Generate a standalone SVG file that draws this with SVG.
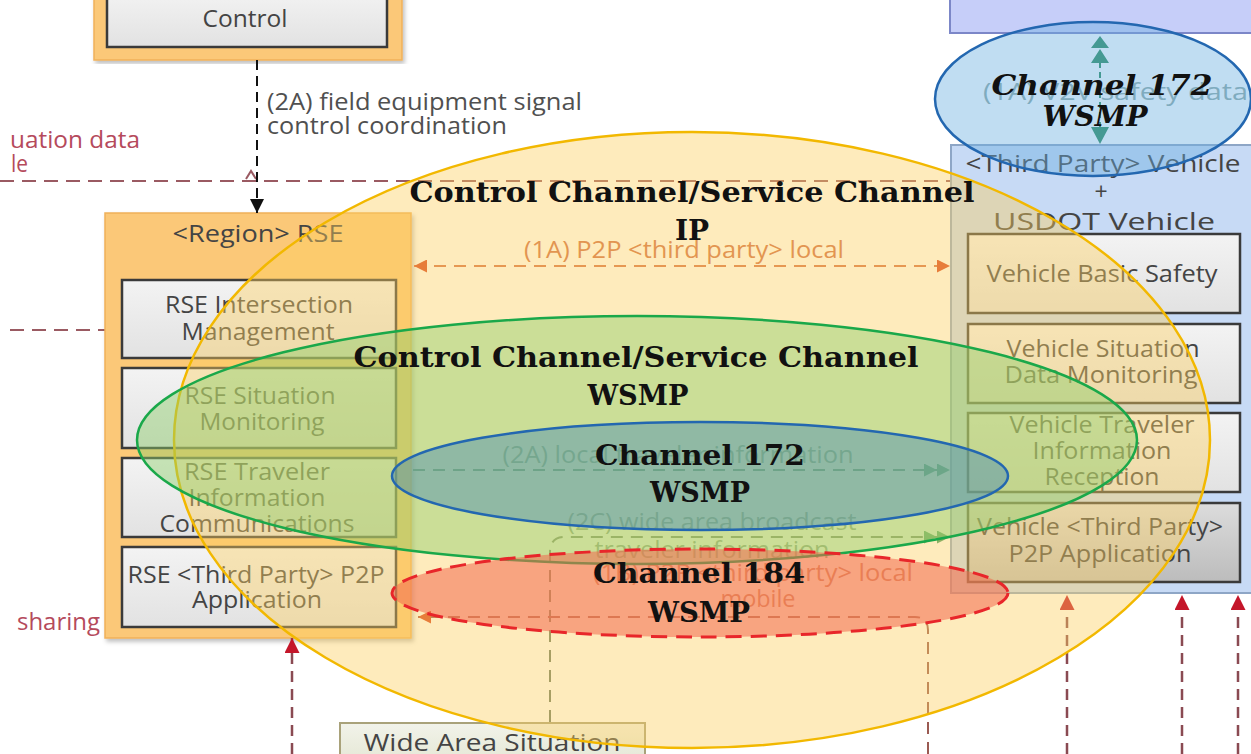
<svg xmlns="http://www.w3.org/2000/svg" width="1251" height="754" viewBox="0 0 1251 754">
<style>
.t{font-family:"Open Sans","Noto Sans",sans-serif;font-size:23px;fill:#444;text-anchor:middle}
.lb{font-family:"Open Sans","Noto Sans",sans-serif;font-size:23px;fill:#505050}
.lr{font-family:"Open Sans","Noto Sans",sans-serif;font-size:23px;fill:#b54a5c}
.big{font-family:"DejaVu Serif","Liberation Serif",serif;font-weight:bold;font-size:28px;fill:#111;text-anchor:middle}
.ib{fill:url(#gGrey);stroke:#3a3a3a;stroke-width:2.5}
.dm{fill:none;stroke:#9a5a62;stroke-width:2;stroke-dasharray:14 8}
.dr{fill:none;stroke:#8a4a52;stroke-width:2.5;stroke-dasharray:11 7}
</style>
<defs>
<linearGradient id="gGrey" x1="0" y1="0" x2="0" y2="1"><stop offset="0" stop-color="#f3f3f3"/><stop offset="1" stop-color="#e2e2e2"/></linearGradient>
<linearGradient id="gDark" x1="0" y1="0" x2="0" y2="1"><stop offset="0" stop-color="#dcdcdc"/><stop offset="1" stop-color="#bcbcbc"/></linearGradient>
<linearGradient id="gWide" x1="0" y1="0" x2="0" y2="1"><stop offset="0" stop-color="#f2f3ea"/><stop offset="1" stop-color="#e3e6d2"/></linearGradient>
<filter id="sh" x="-5%" y="-5%" width="110%" height="110%"><feDropShadow dx="2" dy="3" stdDeviation="2" flood-color="#000" flood-opacity="0.25"/></filter>
<marker id="aBlack" viewBox="0 0 10 10" refX="10" refY="5" markerWidth="16" markerHeight="14" markerUnits="userSpaceOnUse" orient="auto"><path d="M0,0 L10,5 L0,10 z" fill="#111"/></marker>
<marker id="aOr" viewBox="0 0 10 10" refX="10" refY="5" markerWidth="16" markerHeight="13" markerUnits="userSpaceOnUse" orient="auto-start-reverse"><path d="M0,0 L10,5 L0,10 z" fill="#d8431f"/></marker>
<marker id="aRed" viewBox="0 0 10 10" refX="10" refY="5" markerWidth="17" markerHeight="15" markerUnits="userSpaceOnUse" orient="auto"><path d="M0,0 L10,5 L0,10 z" fill="#c4162a"/></marker>
<marker id="aGr2" viewBox="0 0 20 10" refX="20" refY="5" markerWidth="30" markerHeight="13" markerUnits="userSpaceOnUse" orient="auto"><path d="M0,0 L10,5 L0,10 z M10,0 L20,5 L10,10 z" fill="#3b9a66"/></marker>
</defs>
<rect width="1251" height="754" fill="#fff"/>

<g id="background-lines">
<path class="dm" d="M0 181 H950"/>
<path class="dm" d="M10 330 H105"/>
<path d="M246 179 L251 171 L256 179" fill="none" stroke="#9a5a62" stroke-width="2"/>
<text class="lr" x="10" y="148" textLength="130" lengthAdjust="spacingAndGlyphs">uation data</text>
<text class="lr" x="11" y="172" textLength="17" lengthAdjust="spacingAndGlyphs">le</text>
<text class="lr" x="17" y="630" textLength="83" lengthAdjust="spacingAndGlyphs">sharing</text>
</g>

<g id="node-control">
<rect x="94" y="-10" width="308" height="70" fill="#fbc878" stroke="#f0b05a" stroke-width="1.5" filter="url(#sh)"/>
<rect x="107" y="-10" width="280" height="57" class="ib"/>
<text class="t" x="245" y="27" textLength="85" lengthAdjust="spacingAndGlyphs">Control</text>
</g>

<g id="node-rse">
<rect x="105" y="213" width="306" height="425" fill="#fbc878" stroke="#f0b05a" stroke-width="1.5" filter="url(#sh)"/>
<text class="t" x="258" y="242" textLength="171" lengthAdjust="spacingAndGlyphs">&lt;Region&gt; RSE</text>
<rect x="122" y="280" width="274" height="78" class="ib"/>
<text class="t" x="259" y="313" textLength="188" lengthAdjust="spacingAndGlyphs">RSE Intersection</text>
<text class="t" x="258" y="340" textLength="153" lengthAdjust="spacingAndGlyphs">Management</text>
<rect x="122" y="368" width="274" height="80" class="ib"/>
<text class="t" x="260" y="404" textLength="151" lengthAdjust="spacingAndGlyphs">RSE Situation</text>
<text class="t" x="262" y="430" textLength="125" lengthAdjust="spacingAndGlyphs">Monitoring</text>
<rect x="122" y="458" width="274" height="79" class="ib"/>
<text class="t" x="257" y="480" textLength="146" lengthAdjust="spacingAndGlyphs">RSE Traveler</text>
<text class="t" x="257" y="506" textLength="137" lengthAdjust="spacingAndGlyphs">Information</text>
<text class="t" x="257" y="532" textLength="195" lengthAdjust="spacingAndGlyphs">Communications</text>
<rect x="122" y="547" width="274" height="80" class="ib"/>
<text class="t" x="256" y="583" textLength="257" lengthAdjust="spacingAndGlyphs">RSE &lt;Third Party&gt; P2P</text>
<text class="t" x="257" y="608" textLength="130" lengthAdjust="spacingAndGlyphs">Application</text>
</g>

<g id="node-top-vehicle">
<rect x="950" y="-10" width="310" height="43" fill="#c6cef9" stroke="#7c87c8" stroke-width="2"/>
</g>

<g id="node-vehicle">
<rect x="951" y="145" width="310" height="448" fill="#c7daf5" stroke="#8ea6c6" stroke-width="2"/>
<text class="t" x="1103" y="172" textLength="275" lengthAdjust="spacingAndGlyphs">&lt;Third Party&gt; Vehicle</text>
<text class="t" x="1101" y="200">+</text>
<text class="t" x="1104" y="230" textLength="222" lengthAdjust="spacingAndGlyphs">USDOT Vehicle</text>
<rect x="968" y="234" width="272" height="79" class="ib"/>
<text class="t" x="1102" y="282" textLength="231" lengthAdjust="spacingAndGlyphs">Vehicle Basic Safety</text>
<rect x="968" y="324" width="272" height="79" class="ib"/>
<text class="t" x="1103" y="357" textLength="193" lengthAdjust="spacingAndGlyphs">Vehicle Situation</text>
<text class="t" x="1101" y="383" textLength="193" lengthAdjust="spacingAndGlyphs">Data Monitoring</text>
<rect x="968" y="413" width="272" height="79" class="ib"/>
<text class="t" x="1102" y="433" textLength="185" lengthAdjust="spacingAndGlyphs">Vehicle Traveler</text>
<text class="t" x="1102" y="459" textLength="139" lengthAdjust="spacingAndGlyphs">Information</text>
<text class="t" x="1102" y="485" textLength="115" lengthAdjust="spacingAndGlyphs">Reception</text>
<rect x="968" y="503" width="272" height="79" fill="url(#gDark)" stroke="#3a3a3a" stroke-width="2.5"/>
<text class="t" x="1100" y="535" textLength="246" lengthAdjust="spacingAndGlyphs">Vehicle &lt;Third Party&gt;</text>
<text class="t" x="1100" y="562" textLength="183" lengthAdjust="spacingAndGlyphs">P2P Application</text>
</g>

<g id="node-wide-area">
<rect x="340" y="723" width="305" height="45" fill="url(#gWide)" stroke="#a9a27a" stroke-width="2"/>
<text class="t" x="492" y="751" textLength="257" lengthAdjust="spacingAndGlyphs">Wide Area Situation</text>
</g>

<g id="connectors">
<path d="M257 60 V213" fill="none" stroke="#111" stroke-width="2" stroke-dasharray="10 6" marker-end="url(#aBlack)"/>
<text class="lb" x="267" y="110" textLength="315" lengthAdjust="spacingAndGlyphs">(2A) field equipment signal</text>
<text class="lb" x="267" y="134" textLength="240" lengthAdjust="spacingAndGlyphs">control coordination</text>

<path d="M414 266 H950" fill="none" stroke="#d6704a" stroke-width="2" stroke-dasharray="12 8" marker-start="url(#aOr)" marker-end="url(#aOr)"/>
<text class="lb" x="684" y="258" text-anchor="middle" textLength="320" lengthAdjust="spacingAndGlyphs" style="fill:#cf6b47">(1A) P2P &lt;third party&gt; local</text>

<path d="M1100 62 V127" fill="none" stroke="#2a8a5c" stroke-width="2" stroke-dasharray="6 4"/>
<path d="M1100 36 L1091 48 L1109 48 Z M1100 49 L1091 63 L1109 63 Z M1100 144 L1091 127 L1109 127 Z" fill="#2a8a5c"/>
<text class="lb" x="983" y="100" textLength="265" lengthAdjust="spacingAndGlyphs" style="fill:#8fa9a6">(1A) V2V safety data</text>

<path d="M413 470 H950" fill="none" stroke="#4a8a6a" stroke-width="2" stroke-dasharray="12 8" marker-end="url(#aGr2)"/>
<text class="lb" x="678" y="463" text-anchor="middle" textLength="351" lengthAdjust="spacingAndGlyphs" style="fill:#6f9c86">(2A) local traveler information</text>

<path d="M550 722 V552 Q550 537 565 537 H950" fill="none" stroke="#6a7a66" stroke-width="2" stroke-dasharray="12 8" marker-end="url(#aGr2)"/>
<text class="lb" x="712" y="530" text-anchor="middle" textLength="289" lengthAdjust="spacingAndGlyphs" style="fill:#7f9a86">(2C) wide area broadcast</text>
<text class="lb" x="712" y="558" text-anchor="middle" textLength="235" lengthAdjust="spacingAndGlyphs" style="fill:#7f9a86">traveler information</text>

<path d="M928 754 V630 Q928 617 915 617 H418" fill="none" stroke="#9a5a52" stroke-width="2" stroke-dasharray="12 8" marker-end="url(#aOr)"/>
<text class="lb" x="753" y="581" text-anchor="middle" textLength="320" lengthAdjust="spacingAndGlyphs" style="fill:#c8705a">(1B) P2P &lt;third party&gt; local</text>
<text class="lb" x="758" y="607" text-anchor="middle" textLength="75" lengthAdjust="spacingAndGlyphs" style="fill:#c8705a">mobile</text>

<path class="dr" d="M292 754 V638" marker-end="url(#aRed)"/>
<path class="dr" d="M1067 754 V595" marker-end="url(#aRed)"/>
<path class="dr" d="M1182 754 V595" marker-end="url(#aRed)"/>
<path class="dr" d="M1238 754 V595" marker-end="url(#aRed)"/>
</g>

<g id="channels">
<ellipse id="ch-ip" cx="692" cy="440" rx="518" ry="308" fill="#fcd060" fill-opacity="0.42" stroke="#f2b800" stroke-width="2.5"/>
<ellipse id="ch-wsmp" cx="637" cy="440" rx="500" ry="124" fill="#8fcf6a" fill-opacity="0.45" stroke="#1aa84a" stroke-width="2.5"/>
<ellipse id="ch-172" cx="700" cy="476" rx="308" ry="54" fill="#3f86b8" fill-opacity="0.42" stroke="#2367b0" stroke-width="2.5"/>
<ellipse id="ch-184" cx="700" cy="593" rx="308" ry="44" fill="#f26a4f" fill-opacity="0.55" stroke="#e8262a" stroke-width="3" stroke-dasharray="16 9"/>
<ellipse id="ch-172-top" cx="1093" cy="99" rx="158" ry="77" fill="#6aaee0" fill-opacity="0.42" stroke="#2367b0" stroke-width="2.5"/>
</g>

<g id="channel-labels">
<text class="big" x="692" y="202" textLength="565" lengthAdjust="spacingAndGlyphs">Control Channel/Service Channel</text>
<text class="big" x="692" y="240">IP</text>
<text class="big" x="636" y="367" textLength="565" lengthAdjust="spacingAndGlyphs">Control Channel/Service Channel</text>
<text class="big" x="638" y="405" textLength="101" lengthAdjust="spacingAndGlyphs">WSMP</text>
<text class="big" x="700" y="465" textLength="210" lengthAdjust="spacingAndGlyphs">Channel 172</text>
<text class="big" x="700" y="502" textLength="100" lengthAdjust="spacingAndGlyphs">WSMP</text>
<text class="big" x="699" y="583" textLength="212" lengthAdjust="spacingAndGlyphs">Channel 184</text>
<text class="big" x="699" y="622" textLength="102" lengthAdjust="spacingAndGlyphs">WSMP</text>
<text class="big" x="1102" y="95" textLength="221" lengthAdjust="spacingAndGlyphs" style="font-style:italic">Channel 172</text>
<text class="big" x="1095" y="126" textLength="105" lengthAdjust="spacingAndGlyphs" style="font-style:italic">WSMP</text>
</g>
</svg>
